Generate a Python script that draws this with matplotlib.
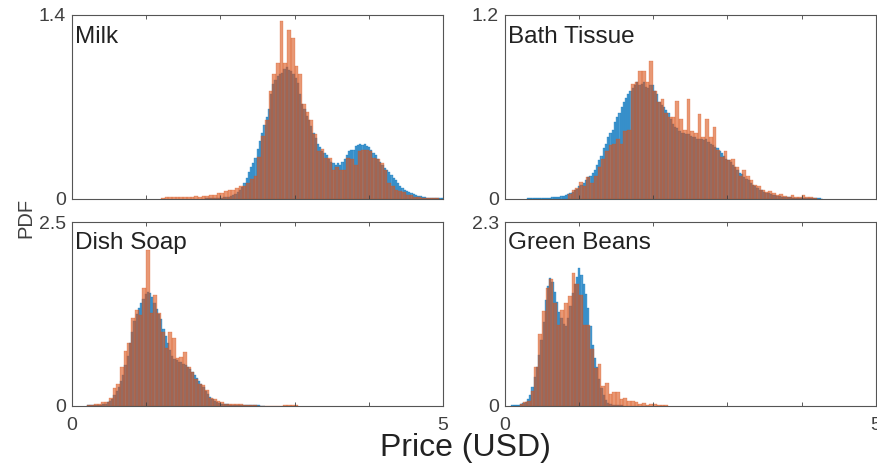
import numpy as np
import matplotlib
matplotlib.use("Agg")
import matplotlib.pyplot as plt

plt.rcParams['font.family'] = ['Liberation Sans', 'DejaVu Sans']

products = ["Milk", "Bath Tissue", "Dish Soap", "Green Beans"]
y_max = [1.4, 1.2, 2.5, 2.3]

# blue histogram: narrow bins (width 0.03), start of first bin
blue_width = 0.03
blue_start = [1.80, 0.30, 0.20, 0.09]
milk_blue = [0.002, 0.002, 0.003, 0.003, 0.004, 0.005, 0.006, 0.008, 0.010, 0.012,
             0.015, 0.02, 0.025, 0.035, 0.05, 0.07, 0.09, 0.12, 0.16, 0.20,
             0.24, 0.27, 0.31, 0.38, 0.44, 0.50, 0.56, 0.62, 0.68, 0.80,
             0.87, 0.90, 0.93, 0.95, 0.96, 0.99, 1.00, 0.98, 0.97, 0.95,
             0.92, 0.88, 0.80, 0.72, 0.68, 0.63, 0.60, 0.55, 0.50, 0.46,
             0.42, 0.39, 0.36, 0.35, 0.33, 0.30, 0.28, 0.27, 0.26, 0.27,
             0.26, 0.28, 0.30, 0.33, 0.36, 0.37, 0.37, 0.40, 0.41, 0.42,
             0.41, 0.42, 0.40, 0.39, 0.37, 0.35, 0.33, 0.30, 0.28, 0.26,
             0.23, 0.22, 0.20, 0.18, 0.16, 0.14, 0.12, 0.10, 0.085, 0.07,
             0.06, 0.05, 0.04, 0.035, 0.028, 0.022, 0.018, 0.014, 0.01, 0.008,
             0.006, 0.005, 0.004, 0.003, 0.003, 0.002, 0.002]
bath_blue = [0.002, 0.002, 0.003, 0.003, 0.003, 0.004, 0.004, 0.005, 0.005, 0.006,
             0.007, 0.008, 0.009, 0.01, 0.012, 0.015, 0.02, 0.025, 0.03, 0.04,
             0.045, 0.055, 0.065, 0.08, 0.09, 0.10, 0.12, 0.14, 0.15, 0.17,
             0.19, 0.22, 0.25, 0.28, 0.33, 0.36, 0.40, 0.43, 0.45, 0.50,
             0.53, 0.56, 0.60, 0.63, 0.66, 0.68, 0.70, 0.72, 0.74, 0.76,
             0.74, 0.75, 0.76, 0.73, 0.72, 0.74, 0.74, 0.70, 0.68, 0.63,
             0.61, 0.60, 0.58, 0.56, 0.52, 0.49, 0.47, 0.46, 0.44, 0.43,
             0.43, 0.42, 0.42, 0.41, 0.40, 0.40, 0.39, 0.39, 0.39, 0.38,
             0.39, 0.37, 0.36, 0.35, 0.34, 0.33, 0.31, 0.30, 0.28, 0.26,
             0.25, 0.24, 0.22, 0.21, 0.19, 0.17, 0.16, 0.14, 0.13, 0.12,
             0.10, 0.09, 0.08, 0.07, 0.06, 0.055, 0.045, 0.04, 0.035, 0.03,
             0.026, 0.022, 0.02, 0.016, 0.014, 0.012, 0.01, 0.009, 0.008, 0.007,
             0.006, 0.006, 0.005, 0.005, 0.004, 0.004, 0.003, 0.003, 0.003, 0.002,
             0.002, 0.002, 0.001]
dish_blue = [0.003, 0.005, 0.006, 0.008, 0.01, 0.012, 0.015, 0.02, 0.03, 0.045,
             0.06, 0.09, 0.14, 0.20, 0.26, 0.33, 0.42, 0.55, 0.68, 0.85,
             1.00, 1.15, 1.25, 1.33, 1.40, 1.45, 1.52, 1.55, 1.53, 1.48,
             1.40, 1.32, 1.25, 1.18, 1.05, 0.95, 0.85, 0.76, 0.68, 0.64,
             0.62, 0.60, 0.59, 0.57, 0.55, 0.53, 0.50, 0.46, 0.42, 0.38,
             0.33, 0.29, 0.25, 0.20, 0.16, 0.12, 0.09, 0.07, 0.05, 0.04,
             0.03, 0.025, 0.02, 0.018, 0.015, 0.013, 0.011, 0.01, 0.009, 0.008,
             0.007, 0.006, 0.005, 0.005, 0.004, 0.004, 0.003, 0.003, 0.002, 0.002]
beans_blue = [0.003, 0.005, 0.008, 0.012, 0.02, 0.03, 0.05, 0.08, 0.13, 0.24,
              0.36, 0.48, 0.64, 0.82, 1.05, 1.32, 1.50, 1.60, 1.55, 1.43,
              1.30, 1.18, 1.10, 1.02, 1.00, 1.10, 1.25, 1.41, 1.52, 1.62,
              1.73, 1.64, 1.52, 1.40, 1.22, 1.00, 0.76, 0.60, 0.48, 0.34,
              0.22, 0.14, 0.07, 0.04, 0.02, 0.012, 0.008, 0.005, 0.004, 0.003]

# orange histogram: wider bins (width 0.05)
orange_width = 0.05
orange_start = [1.20, 0.85, 0.20, 0.20]
milk_orange = [0.008, 0.010, 0.012, 0.010, 0.012, 0.010,
               0.015, 0.015, 0.012, 0.02, 0.015, 0.02, 0.02, 0.025, 0.03, 0.04,
               0.045, 0.055, 0.065, 0.07, 0.08, 0.10, 0.10, 0.12, 0.15, 0.17,
               0.32, 0.48, 0.60, 0.82, 0.95, 1.03, 1.35, 1.03, 1.28, 1.22,
               1.01, 0.95, 0.72, 0.66, 0.60, 0.49, 0.36, 0.38, 0.31, 0.31,
               0.22, 0.24, 0.22, 0.22, 0.31, 0.30, 0.26, 0.36, 0.37, 0.37,
               0.36, 0.31, 0.30, 0.27, 0.22, 0.12, 0.10, 0.07, 0.055, 0.05,
               0.03, 0.025, 0.015, 0.015, 0.008, 0.008, 0.005, 0.003, 0.002]
bath_orange = [0.03, 0.056, 0.067, 0.11, 0.08, 0.14, 0.10, 0.15, 0.21, 0.26,
               0.31, 0.35, 0.36, 0.39, 0.36, 0.44, 0.45, 0.75, 0.76, 0.83,
               0.83, 0.76, 0.90, 0.70, 0.63, 0.65, 0.56, 0.53, 0.53, 0.64,
               0.52, 0.45, 0.65, 0.44, 0.43, 0.55, 0.40, 0.52, 0.40, 0.47,
               0.32, 0.27, 0.31, 0.25, 0.26, 0.21, 0.15, 0.19, 0.15, 0.12,
               0.09, 0.08, 0.056, 0.045, 0.05, 0.035, 0.024, 0.03, 0.017, 0.013,
               0.024, 0.013, 0.013, 0.024, 0.008, 0.013, 0.005]
dish_orange = [0.005, 0.008, 0.018, 0.02, 0.05, 0.055, 0.10, 0.24, 0.30, 0.53,
               0.74, 0.85, 1.19, 1.30, 1.24, 1.60, 2.12, 1.26, 1.51, 1.26,
               1.01, 0.78, 1.00, 0.92, 0.65, 0.67, 0.73, 0.53, 0.46, 0.37,
               0.30, 0.28, 0.21, 0.11, 0.09, 0.064, 0.045, 0.03, 0.022, 0.022,
               0.018, 0.018, 0.01, 0.01, 0.01, 0.005, 0.0, 0.0, 0.0, 0.0,
               0.0, 0.0, 0.0, 0.01, 0.012, 0.01, 0.005]
beans_orange = [0.02, 0.05, 0.06, 0.18, 0.48, 0.90, 1.19, 1.47, 1.59, 1.29,
                1.01, 1.20, 1.29, 1.37, 1.67, 1.53, 1.39, 1.01, 1.01, 0.71,
                0.47, 0.52, 0.25, 0.29, 0.15, 0.17, 0.17, 0.09, 0.10, 0.06,
                0.06, 0.05, 0.02, 0.04, 0.013, 0.02, 0.02, 0.01, 0.005, 0.005]

blue_heights = [milk_blue, bath_blue, dish_blue, beans_blue]
orange_heights = [milk_orange, bath_orange, dish_orange, beans_orange]

blue = '#0072BD'
orange = '#D95319'
axis_grey = '#404040'

fig = plt.figure(figsize=(8.78, 4.68), dpi=100)
boxes = [[0.0817, 0.5754, 0.4229, 0.3932],
         [0.5748, 0.5754, 0.4229, 0.3932],
         [0.0817, 0.1331, 0.4229, 0.3919],
         [0.5748, 0.1331, 0.4229, 0.3919]]

for i, name in enumerate(products):
    ax = fig.add_axes(boxes[i])
    bh = blue_heights[i]
    b_edges = blue_start[i] + blue_width * np.arange(len(bh))
    ax.bar(b_edges, bh, width=blue_width, align='edge', color=blue,
           edgecolor=blue, linewidth=0.3, alpha=0.7)
    oh = orange_heights[i]
    o_edges = orange_start[i] + orange_width * np.arange(len(oh))
    ax.bar(o_edges, oh, width=orange_width, align='edge', color=orange,
           edgecolor=orange, linewidth=0.3, alpha=0.6)

    ax.set_xlim(0, 5)
    ax.set_ylim(0, y_max[i])
    ax.set_xticks([0, 1, 2, 3, 4, 5])
    if i >= 2:
        ax.set_xticklabels(['0', '', '', '', '', '5'])
    else:
        ax.set_xticklabels([])
    ax.set_yticks([0, y_max[i]])
    ax.set_yticklabels(['0', f'{y_max[i]:g}'])
    ax.tick_params(direction='in', length=3, width=0.6, colors=axis_grey,
                   labelsize=14, top=True, right=True)
    ax.tick_params(axis='x', pad=8)
    ax.tick_params(axis='y', pad=4)
    for sp in ax.spines.values():
        sp.set_color('#555555')
        sp.set_linewidth(0.8)
    ty = 0.845 if i < 2 else 0.857
    ax.text(0.01, ty, name, transform=ax.transAxes, fontsize=17.5,
            color='#222222', va='baseline', ha='left')

fig.text(0.030, 0.534, 'PDF', rotation=90, fontsize=14.5, color=axis_grey,
         ha='center', va='center')
fig.text(0.530, 0.043, 'Price (USD)', fontsize=23, color='#222222',
         ha='center', va='center')

fig.savefig('out.png', dpi=100)
